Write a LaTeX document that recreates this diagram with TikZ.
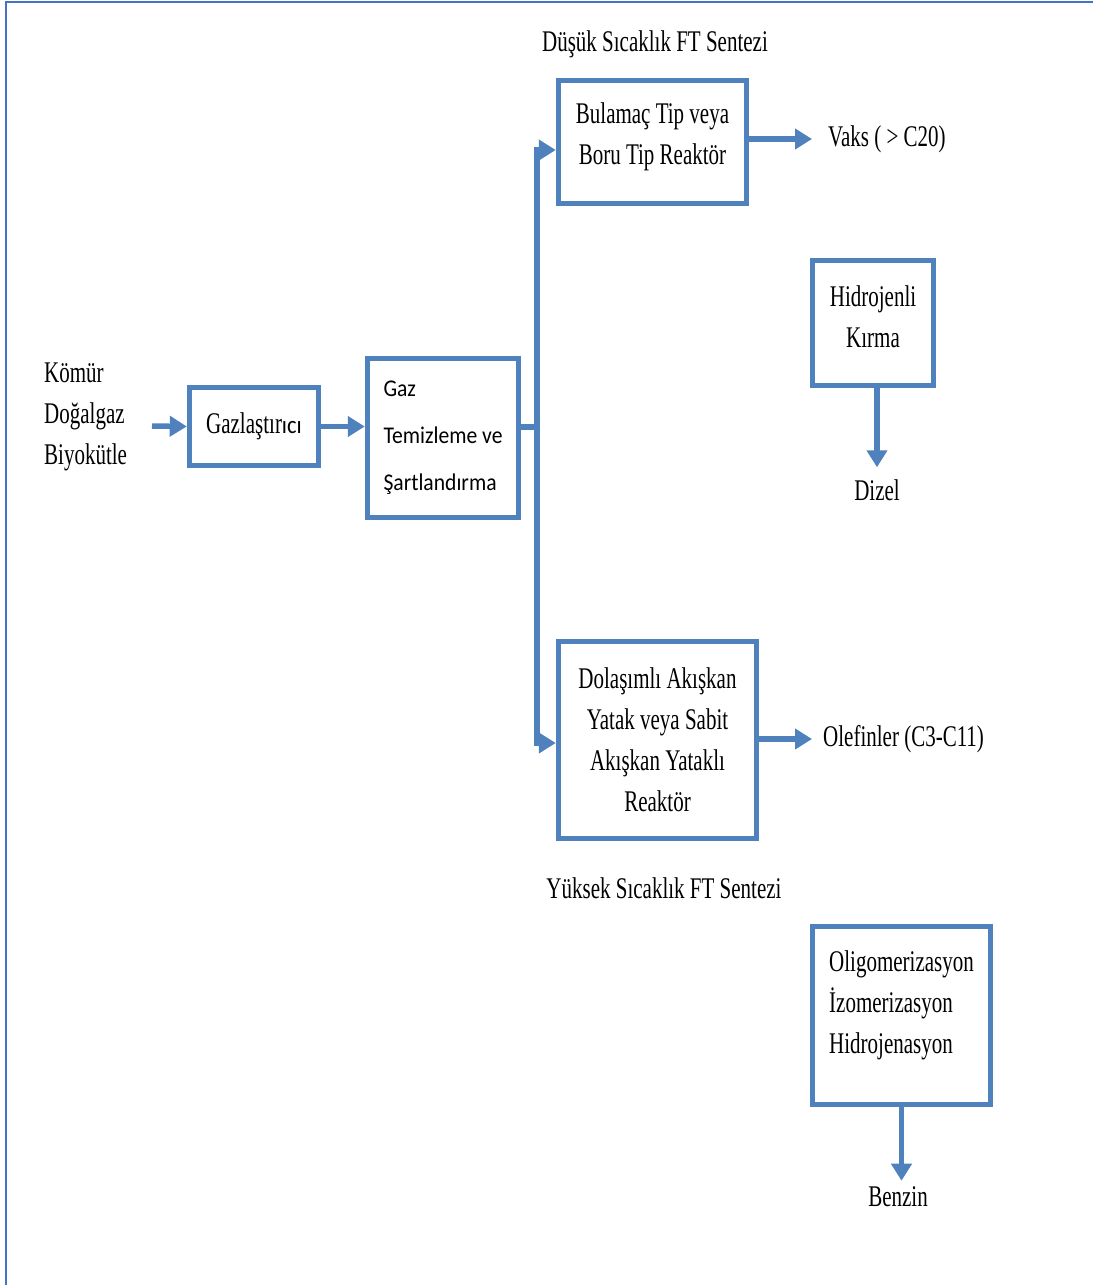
\documentclass[tikz,border=0pt]{standalone}
\usepackage{fontspec}
\setmainfont[FakeStretch=0.7]{Liberation Serif}
\newfontfamily\labelsans[FakeStretch=0.9]{Carlito}
\usetikzlibrary{arrows.meta}
\definecolor{flowblue}{RGB}{79,129,189}
\definecolor{frameblue}{RGB}{68,114,196}

\begin{document}
\begin{tikzpicture}[x=1pt,y=-1pt,
  txt/.style={font=\fontsize{30}{41}\selectfont, text=black},
  box/.style={draw=flowblue, line width=5.5pt, inner sep=0pt, fill=white},
  flow/.style={draw=flowblue, line width=5.5pt, -{Triangle[length=17pt,width=20pt]}},
  pipe/.style={draw=flowblue, line width=5.5pt}]

% page and its frame
\useasboundingbox (0,0) rectangle (1093,1285);
\fill[white] (0,0) rectangle (1093,1285);
\draw[frameblue, line width=2pt] (6,1285) -- (6,2) -- (1093,2);

% feedstock
\node[txt, align=left, anchor=west, inner sep=0pt] (src) at (44,417) {Kömür\\Doğalgaz\\Biyokütle};
\coordinate (feed) at (152,426);

% gasification and gas cleaning
\node[box, txt, minimum width=129pt, minimum height=78pt] (gas) at (254,426.5)
  {Gazlaştır{\labelsans\fontsize{25}{25}\selectfont ıcı}};
\node[box, minimum width=151pt, minimum height=159pt, align=left,
  font=\labelsans\fontsize{24}{47}\selectfont, text=black] (clean) at (443,438)
  {Gaz\\Temizleme ve\\Şartlandırma};

% low temperature branch
\node[txt] (lttitle) at (655,44) {Düşük Sıcaklık FT Sentezi};
\node[box, txt, align=center, text depth=16pt, minimum width=188pt, minimum height=123pt] (lt) at (652.5,142)
  {Bulamaç Tip veya\\Boru Tip Reaktör};
\node[txt, anchor=west, inner sep=0pt] (vaks) at (828,139) {Vaks ( > C20)};
\node[box, txt, align=center, text depth=12pt, minimum width=121pt, minimum height=125pt] (hk) at (873,323)
  {Hidrojenli\\Kırma};
\node[txt, inner sep=0pt] (dizel) at (877,490) {Dizel};

% high temperature branch
\node[box, txt, align=center, minimum width=198pt, minimum height=197pt] (ht) at (657.5,740)
  {Dolaşımlı Akışkan\\Yatak veya Sabit\\Akışkan Yataklı\\Reaktör};
\node[txt] (httitle) at (664,888) {Yüksek Sıcaklık FT Sentezi};
\node[txt, anchor=west, inner sep=0pt] (olef) at (823,739) {Olefinler (C3-C11)};
\node[box, txt, align=left, text depth=27pt, minimum width=178pt, minimum height=178pt] (og) at (901.5,1015.5)
  {Oligomerizasyon\\İzomerizasyon\\Hidrojenasyon};
\node[txt, inner sep=0pt] (benzin) at (898,1197) {Benzin};

% connectors
\draw[flow] (feed) -- (gas.west);
\draw[flow] (gas.east) -- (gas.east -| clean.west);
\coordinate (split) at (537,427);
\draw[pipe] (clean.east |- split) -- (split);
\draw[flow] (split) |- ([yshift=-8pt]lt.west);
\draw[flow] (split) |- ([yshift=-3pt]ht.west);
\draw[flow, shorten >=16pt] (lt.east |- vaks.west) -- (vaks.west);
\draw[flow, shorten >=11pt] (ht.east |- olef.west) -- (olef.west);
\draw[flow, shorten >=12pt] (dizel.north |- hk.south) -- (dizel.north);
\draw[flow, shorten >=6pt] (og.south) -- (og.south |- benzin.north);
\end{tikzpicture}
\end{document}
